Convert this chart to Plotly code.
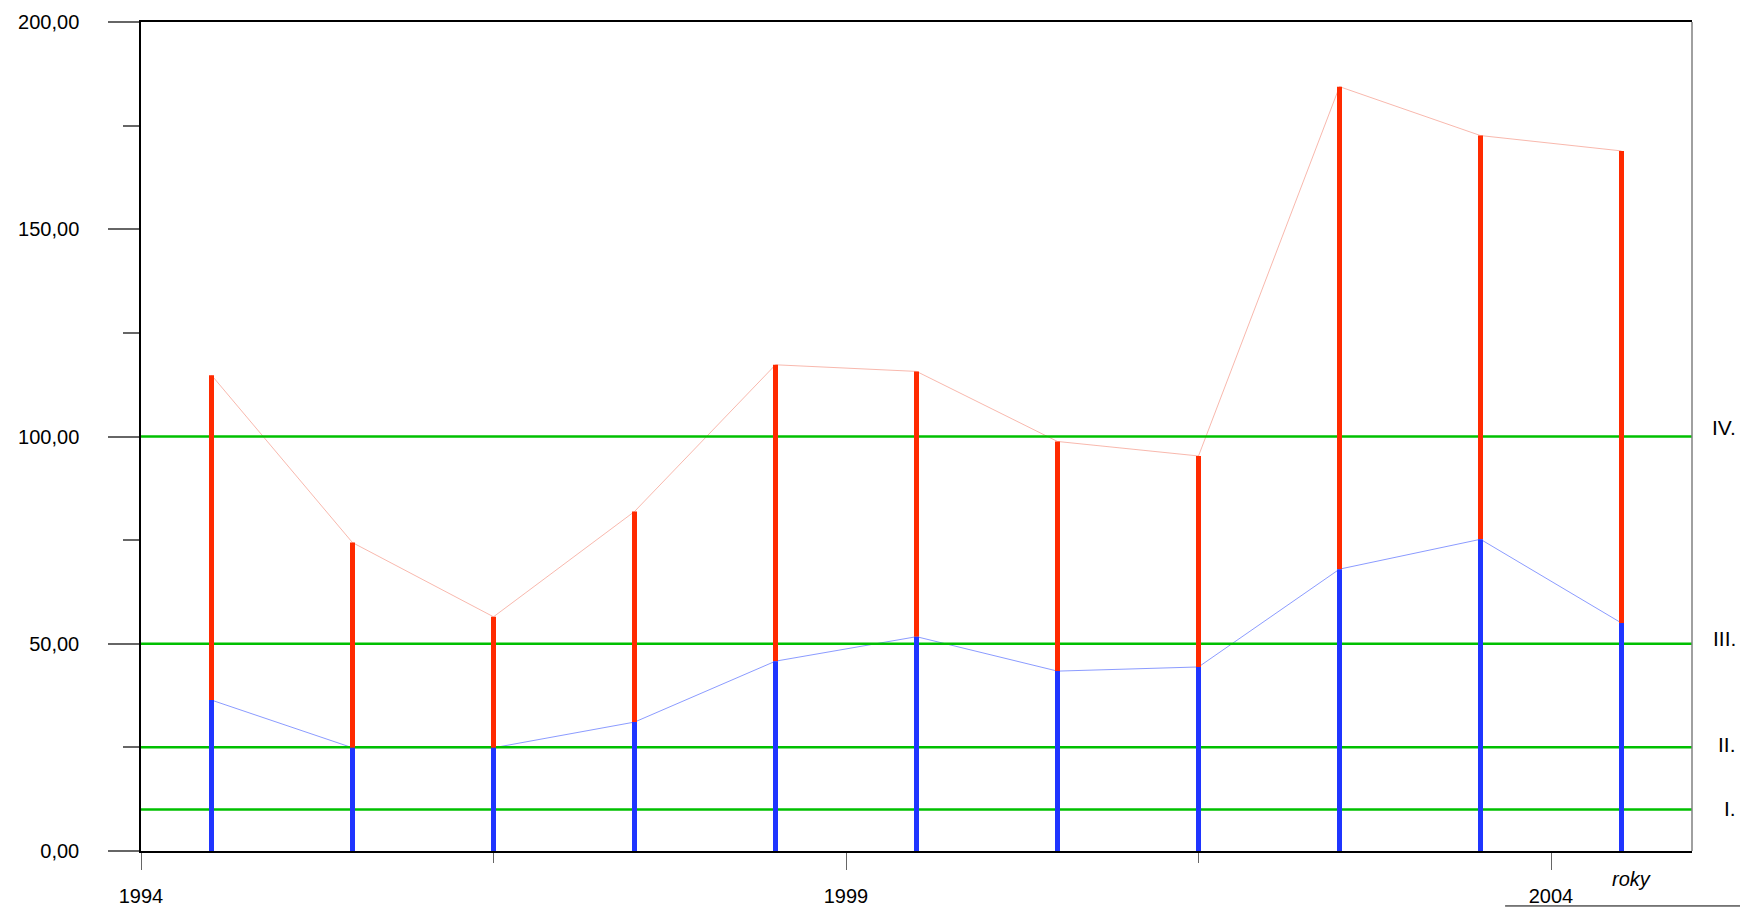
import plotly.graph_objects as go

# ---- data ----
years = [1994.5, 1995.5, 1996.5, 1997.5, 1998.5, 1999.5, 2000.5, 2001.5, 2002.5, 2003.5, 2004.5]
upper_values = [114.8, 74.4, 56.5, 81.9, 117.3, 115.7, 98.8, 95.3, 184.4, 172.6, 168.9]
lower_values = [36.4, 24.9, 24.9, 31.1, 45.8, 51.7, 43.4, 44.4, 68.0, 75.2, 55.0]
limit_values = [10, 25, 50, 100]
limit_labels = ["I.", "II.", "III.", "IV."]
limit_label_shift = [1, 3, 5, 9]
x_tick_vals = [1994, 1999, 2004]
y_tick_vals = [0, 50, 100, 150, 200]

FONT = "Liberation Sans, Arial, sans-serif"
RED = "#ff2a00"
BLUE = "#1f35ff"
GREEN = "#00c000"

fig = go.Figure()

# thin connecting lines
fig.add_trace(go.Scatter(x=years, y=upper_values, mode="lines",
                         line=dict(color="rgba(245,160,145,0.75)", width=1), hoverinfo="skip"))
fig.add_trace(go.Scatter(x=years, y=lower_values, mode="lines",
                         line=dict(color="rgba(110,130,255,0.8)", width=1), hoverinfo="skip"))

# limit lines
for v in limit_values:
    fig.add_trace(go.Scatter(x=[1994, 2005], y=[v, v], mode="lines",
                             line=dict(color=GREEN, width=2.5), hoverinfo="skip"))

# vertical bars: red (lower -> upper), blue (0 -> lower)
rx, ry, bx, by = [], [], [], []
for x, lo, up in zip(years, lower_values, upper_values):
    rx += [x, x, None]
    ry += [lo, up, None]
    bx += [x, x, None]
    by += [0, lo, None]
fig.add_trace(go.Scatter(x=rx, y=ry, mode="lines", line=dict(color=RED, width=5), hoverinfo="skip"))
fig.add_trace(go.Scatter(x=bx, y=by, mode="lines", line=dict(color=BLUE, width=5), hoverinfo="skip"))

# labels for limits
for v, t, s in zip(limit_values, limit_labels, limit_label_shift):
    fig.add_annotation(x=1.0294, xref="paper", y=v, yref="y", text=t, showarrow=False,
                       xanchor="right", yanchor="middle", yshift=s,
                       font=dict(family=FONT, size=21, color="black"))

fig.add_annotation(x=2004.57, y=0, xref="x", yref="y", text="<i>roky</i>", showarrow=False,
                   xanchor="center", yanchor="middle", yshift=-28,
                   font=dict(family=FONT, size=20, color="black"))

# right border (gray) and stray bottom line
fig.add_shape(type="line", xref="paper", yref="paper", x0=1, x1=1, y0=0, y1=1,
              line=dict(color="#808080", width=1.5))
fig.add_shape(type="line", xref="paper", yref="paper", x0=0.8795, x1=1.031, y0=-0.0663, y1=-0.0663,
              line=dict(color="black", width=1))

fig.update_layout(
    width=1740, height=907,
    margin=dict(l=141, r=48, t=22, b=56, autoexpand=False),
    paper_bgcolor="white", plot_bgcolor="white",
    showlegend=False,
    separators=", ",
    font=dict(family=FONT, size=20, color="black"),
    xaxis=dict(range=[1994, 2005], tickvals=x_tick_vals, ticktext=[str(v) for v in x_tick_vals],
               automargin=False,
               showgrid=False, zeroline=False, showline=True, linecolor="black", linewidth=2,
               mirror=True, ticks="outside", ticklen=17, tickcolor="#666", tickwidth=1,
               minor=dict(tickvals=[1996.5, 2001.5], ticks="outside", ticklen=10, tickcolor="#666"),
               ticklabelstandoff=9,
               tickfont=dict(family=FONT, size=20, color="black")),
    yaxis=dict(range=[0, 200], tickvals=y_tick_vals, tickformat=".2f",
               automargin=False,
               showgrid=False, zeroline=False, showline=True, linecolor="black", linewidth=1.5,
               ticks="outside", ticklen=31, tickcolor="#666", tickwidth=1.5,
               minor=dict(dtick=25, tick0=0, ticks="outside", ticklen=16, tickcolor="#666", tickwidth=1.5),
               ticklabelstandoff=25,
               tickfont=dict(family=FONT, size=20, color="black")),
)

fig.write_html("out.html", config={"displayModeBar": False},
               post_script="document.body.style.margin='0';document.body.style.overflow='hidden';")
